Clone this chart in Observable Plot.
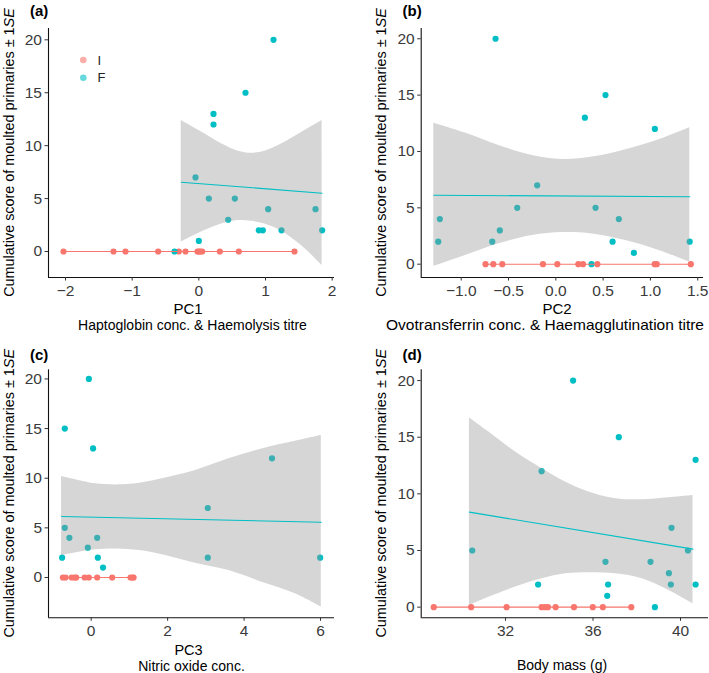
<!DOCTYPE html>
<html>
<head>
<meta charset="utf-8">
<script src="https://cdn.jsdelivr.net/npm/d3@7"></script>
<script src="https://cdn.jsdelivr.net/npm/@observablehq/plot@0.6"></script>
<style>
  html, body { margin: 0; padding: 0; background: #ffffff; }
  #wrap { position: relative; width: 709px; height: 673px; overflow: hidden;
          font-family: "Liberation Sans", Arial, sans-serif; }
  #wrap > svg { position: absolute; overflow: visible; }
</style>
</head>
<body>
<div id="wrap"></div>
<script>
// ---------------- data ----------------
const groups = ["I", "F"];
const groupColors = ["#F8766D", "#00BFC4"];
const yTicks = [0, 5, 10, 15, 20];

// (a) PC1
const aIx = [-2.03, -1.28, -1.10, -0.61, -0.30, -0.20, -0.02, 0.00, 0.02, 0.05, 0.315, 0.60, 1.435];
const aIy = [0, 0, 0, 0, 0, 0, 0, 0, 0, 0, 0, 0, 0];
const aFx = [1.12, 0.70, 0.22, 0.22, -0.05, 0.15, 0.54, 0.44, 1.04, 1.75, 0.90, 0.96, 1.24, 1.85, 0.00, -0.365];
const aFy = [20, 15, 13, 12, 7, 5, 5, 3, 4, 4, 2, 2, 2, 2, 1, 0];
const aFitX = [-0.264, 1.849];
const aFitY = [6.55, 5.51];
const aRibX = [-0.264, 0.088, 0.34, 0.59, 0.79, 0.99, 1.245, 1.547, 1.849];
const aRibHi = [12.38, 11.12, 10.17, 9.48, 9.29, 9.48, 10.17, 11.27, 12.38];
const aRibLo = [0.88, 1.98, 2.61, 2.93, 2.86, 2.60, 1.90, 0.52, -1.32];
const aXTicks = [-2, -1, 0, 1, 2];

// (b) PC2
const bIx = [-0.743, -0.661, -0.566, -0.136, 0.016, 0.238, 0.287, 0.439, 1.045, 1.067, 1.427];
const bIy = [0, 0, 0, 0, 0, 0, 0, 0, 0, 0, 0];
const bFx = [-0.637, 0.525, 0.307, 1.047, -0.197, -0.408, 0.420, -1.226, 0.666, -0.592, -1.243, -0.672, 0.600, 1.415, 0.825, 0.377];
const bFy = [20, 15, 13, 12, 7, 5, 5, 4, 4, 3, 2, 2, 2, 2, 1, 0];
const bFitX = [-1.29, 1.416];
const bFitY = [6.12, 5.98];
const bRibX = [-1.29, -0.955, -0.602, -0.249, 0.069, 0.386, 0.739, 1.091, 1.416];
const bRibHi = [12.51, 11.63, 10.53, 9.65, 9.29, 9.50, 10.15, 11.04, 12.10];
const bRibLo = [-0.20, 0.77, 1.81, 2.55, 2.81, 2.69, 2.10, 1.22, 0.18];
const bXTicks = [-1.0, -0.5, 0.0, 0.5, 1.0, 1.5];

// (c) PC3
const cIx = [-0.74, -0.67, -0.51, -0.43, -0.39, -0.17, -0.06, 0.157, 0.55, 1.03, 1.09, 1.11];
const cIy = [0, 0, 0, 0, 0, 0, 0, 0, 0, 0, 0, 0];
const cFx = [-0.06, -0.69, 0.05, 4.73, 3.05, -0.69, -0.57, 0.157, -0.087, -0.76, 0.174, 3.05, 5.99, 0.31];
const cFy = [20, 15, 13, 12, 7, 5, 4, 4, 3, 2, 2, 2, 2, 1];
const cFitX = [-0.775, 6.02];
const cFitY = [6.14, 5.57];
const cRibX = [-0.775, -0.322, 0.113, 0.81, 1.42, 2.12, 2.73, 3.60, 4.47, 5.34, 6.02];
const cRibHi = [10.17, 9.77, 9.43, 9.33, 9.60, 10.17, 10.77, 11.95, 12.95, 13.72, 14.30];
const cRibLo = [2.21, 2.55, 2.79, 2.85, 2.65, 2.05, 1.44, 0.70, -0.47, -1.64, -2.99];
const cXTicks = [0, 2, 4, 6];

// (d) Body mass
const dIx = [28.72, 30.43, 32.05, 33.65, 33.80, 33.94, 34.29, 35.13, 35.99, 36.45, 37.75];
const dIy = [0, 0, 0, 0, 0, 0, 0, 0, 0, 0, 0];
const dFx = [35.09, 37.18, 40.69, 33.65, 39.59, 30.48, 40.34, 36.57, 38.63, 39.47, 33.49, 36.69, 39.56, 40.69, 36.65, 38.83];
const dFy = [20, 15, 13, 12, 7, 5, 5, 4, 4, 3, 2, 2, 2, 2, 1, 0];
const dFitX = [30.35, 40.57];
const dFitY = [8.39, 5.12];
const dRibX = [30.35, 31.24, 32.46, 33.68, 34.74, 35.81, 37.03, 38.25, 39.47, 40.57];
const dRibHi = [16.72, 15.45, 13.69, 12.22, 11.04, 10.16, 9.57, 9.48, 9.66, 9.86];
const dRibLo = [0.15, 0.88, 1.77, 2.50, 2.94, 3.03, 2.94, 2.50, 1.47, 0.29];
const dXTicks = [32, 36, 40];

const panelTags = ["(a)", "(b)", "(c)", "(d)"];
const yTitleMain = "Cumulative score of moulted primaries \u00B1 1";
const yTitleItalic = "SE";

// ---------------- drawing ----------------
const FONT = '"Liberation Sans", Arial, sans-serif';
const TICK_FONT = 15.5;
const wrap = document.getElementById("wrap");

function rows(xs, ys) { return xs.map((x, i) => ({x, y: ys[i]})); }
function band(xs, lo, hi) { return xs.map((x, i) => ({x, lo: lo[i], hi: hi[i]})); }

function panel(cfg) {
  const I = rows(cfg.Ix, cfg.Iy);
  const F = rows(cfg.Fx, cfg.Fy);
  const fit = rows(cfg.fitX, cfg.fitY);
  const rib = band(cfg.ribX, cfg.ribLo, cfg.ribHi);
  const svg = Plot.plot({
    width: cfg.w, height: cfg.h,
    marginLeft: cfg.ml, marginRight: cfg.mr, marginTop: cfg.mt, marginBottom: cfg.mb,
    x: {domain: cfg.xDomain},
    y: {domain: cfg.yDomain},
    style: {fontFamily: FONT, fontSize: TICK_FONT + "px", background: "transparent", overflow: "visible"},
    marks: [
      Plot.dot(I, {x: "x", y: "y", r: 3.1, fill: groupColors[0], stroke: "none"}),
      Plot.dot(F, {x: "x", y: "y", r: 3.1, fill: groupColors[1], stroke: "none"}),
      Plot.areaY(rib, {x: "x", y1: "lo", y2: "hi", fill: "#999999", fillOpacity: 0.4, curve: "catmull-rom"}),
      Plot.line(fit, {x: "x", y: "y", stroke: groupColors[1], strokeWidth: 1.1}),
      Plot.line(I, {x: "x", y: "y", stroke: groupColors[0], strokeWidth: 1.1}),
      Plot.ruleX([cfg.xDomain[0]], {stroke: "#111", strokeWidth: 1.1}),
      Plot.ruleY([cfg.yDomain[0]], {stroke: "#111", strokeWidth: 1.1}),
      Plot.axisX({ticks: cfg.xTicks, tickFormat: cfg.xFormat, tickSize: 3.5, tickPadding: 4,
                  label: null, color: "#333", fontSize: TICK_FONT}),
      Plot.axisY({ticks: yTicks, tickSize: 3.5, tickPadding: 3, label: null, color: "#333", fontSize: TICK_FONT})
    ]
  });
  d3.select(svg).selectAll("text")
    .attr("font-size", TICK_FONT).style("font-size", TICK_FONT + "px")
    .attr("fill", "#3a3a3a");
  svg.style.left = cfg.left + "px";
  svg.style.top = cfg.top + "px";
  wrap.appendChild(svg);
}

panel({left: 0, top: 0, w: 354, h: 330, ml: 48, mr: 20, mt: 28, mb: 53,
  xDomain: [-2.255, 2.035], yDomain: [-2.456, 21.07], xTicks: aXTicks, xFormat: d3.format("d"),
  Ix: aIx, Iy: aIy, Fx: aFx, Fy: aFy, fitX: aFitX, fitY: aFitY, ribX: aRibX, ribLo: aRibLo, ribHi: aRibHi});
panel({left: 354, top: 0, w: 355, h: 330, ml: 66.7, mr: 6, mt: 28, mb: 53,
  xDomain: [-1.423, 1.561], yDomain: [-1.18, 20.91], xTicks: bXTicks, xFormat: d3.format(".1f"),
  Ix: bIx, Iy: bIy, Fx: bFx, Fy: bFy, fitX: bFitX, fitY: bFitY, ribX: bRibX, ribLo: bRibLo, ribHi: bRibHi});
panel({left: 0, top: 330, w: 354, h: 343, ml: 48, mr: 20, mt: 39.3, mb: 55.7,
  xDomain: [-1.116, 6.365], yDomain: [-4.06, 20.92], xTicks: cXTicks, xFormat: d3.format("d"),
  Ix: cIx, Iy: cIy, Fx: cFx, Fy: cFy, fitX: cFitX, fitY: cFitY, ribX: cRibX, ribLo: cRibLo, ribHi: cRibHi});
panel({left: 354, top: 330, w: 355, h: 343, ml: 66.7, mr: 1, mt: 39.3, mb: 55.7,
  xDomain: [28.146, 41.28], yDomain: [-0.94, 20.95], xTicks: dXTicks, xFormat: d3.format("d"),
  Ix: dIx, Iy: dIy, Fx: dFx, Fy: dFy, fitX: dFitX, fitY: dFitY, ribX: dRibX, ribLo: dRibLo, ribHi: dRibHi});

// ---------------- overlay text (titles, tags, legend) ----------------
const ov = d3.select(wrap).append("svg")
  .attr("width", 709).attr("height", 673)
  .style("left", "0px").style("top", "0px")
  .attr("font-family", FONT);

const tagPos = [[30, 15.5], [402.5, 15.5], [30, 360], [402.5, 360]];
panelTags.forEach((t, i) => {
  ov.append("text").attr("x", tagPos[i][0]).attr("y", tagPos[i][1])
    .attr("font-size", 15).attr("font-weight", "bold").attr("fill", "#000").text(t);
});

const yTitlePos = [[13.5, 152.5], [385.5, 152.5], [13.5, 493.3], [385.5, 493.3]];
yTitlePos.forEach(([x, y]) => {
  const t = ov.append("text")
    .attr("transform", `translate(${x},${y}) rotate(-90)`)
    .attr("text-anchor", "middle").attr("font-size", 14.4).attr("fill", "#000");
  t.append("tspan").text(yTitleMain);
  t.append("tspan").attr("font-style", "italic").text(yTitleItalic);
});

function label(txt, x, y, size, len) {
  const t = ov.append("text").attr("x", x).attr("y", y)
    .attr("text-anchor", "middle").attr("font-size", size).attr("fill", "#000").text(txt);
  if (len) t.attr("textLength", len).attr("lengthAdjust", "spacingAndGlyphs");
}
label("PC1", 188, 313.5, 15);
label("Haptoglobin conc. & Haemolysis titre", 192.5, 329.8, 14);
label("PC2", 557, 313.5, 15);
label("Ovotransferrin conc. & Haemagglutination titre", 545, 329.8, 15, 318);
label("PC3", 188.5, 654.5, 14.5);
label("Nitric oxide conc.", 191.5, 670.5, 14);
label("Body mass (g)", 562, 670, 14);

// legend in panel (a)
groups.forEach((g, i) => {
  const y = 60 + i * 17.7;
  ov.append("circle").attr("cx", 83.3).attr("cy", y).attr("r", 3.3)
    .attr("fill", groupColors[i]).attr("fill-opacity", 0.6);
  ov.append("text").attr("x", 97.5).attr("y", y + 4.7).attr("font-size", 13)
    .attr("fill", "#222").text(g);
});
</script>
</body>
</html>
